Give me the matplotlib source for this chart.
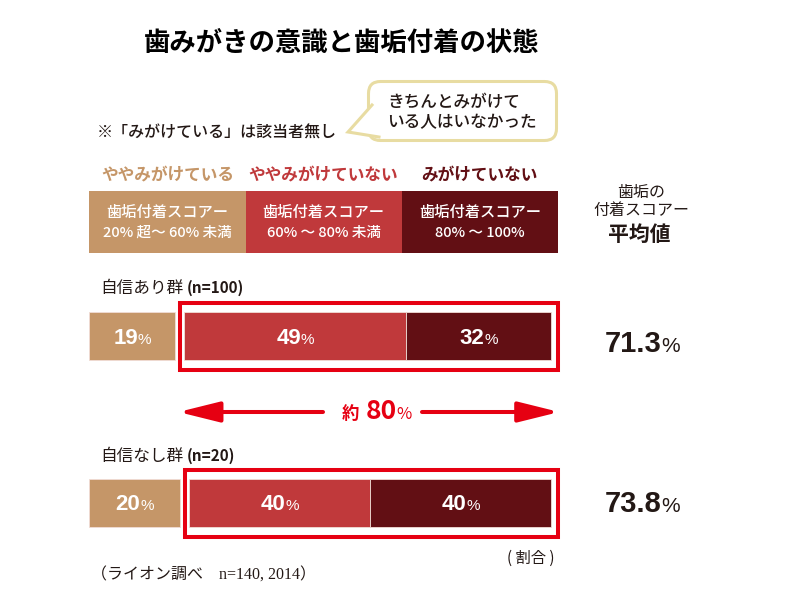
import matplotlib.pyplot as plt
from matplotlib.patches import Rectangle, FancyBboxPatch, Polygon

plt.rcParams['font.family'] = ['Noto Sans CJK JP', 'DejaVu Sans']

# データ
title = '歯みがきの意識と歯垢付着の状態'
note = '※「みがけている」は該当者無し'
bubble_lines = ['きちんとみがけて', 'いる人はいなかった']
categories = ['ややみがけている', 'ややみがけていない', 'みがけていない']
score_label = '歯垢付着スコアー'
score_ranges = ['20% 超〜 60% 未満', '60% 〜 80% 未満', '80% 〜 100%']
groups = ['自信あり群', '自信なし群']
group_n = ['(n=100)', '(n=20)']
shares_confident = [19, 49, 32]
shares_unconfident = [20, 40, 40]
mean_scores = [71.3, 73.8]
mean_header = ['歯垢の', '付着スコアー', '平均値']
about_share = 80
unit_note = '( 割合 )'
source = '（ライオン調べ　n=140, 2014）'

colors = ['#c59668', '#c0393b', '#620f14']
RED = '#e60012'
INK = '#231815'
CREAM = '#e8dca2'
NUM_FONT = ['Liberation Sans', 'Noto Sans CJK JP']

fig = plt.figure(figsize=(8, 6), dpi=100)
ax = fig.add_axes([0, 0, 1, 1])
ax.set_xlim(0, 800)
ax.set_ylim(600, 0)
ax.axis('off')

# 帯グラフ用の軸（x は % 単位）
PX = 4.53      # 1% あたりのピクセル
X0 = 89.3      # 0% の位置
GAP = 9        # 1本目と2本目のすき間（px）
axb = fig.add_axes([0, 0, 1, 1], zorder=2)
axb.set_xlim(-X0 / PX, (800 - X0) / PX)
axb.set_ylim(600, 0)
axb.axis('off')
axb.patch.set_visible(False)

chains = []


def chain_text(axes, x, y, parts, ha='left', color=INK, family=None, gaps=None):
    items = []
    for s, size, weight in parts:
        kw = {} if family is None else {'family': family}
        t = axes.text(x, y, s, fontsize=size, fontweight=weight, color=color,
                      va='baseline', ha='left', zorder=6, **kw)
        items.append(t)
    chains.append((axes, x, y, ha, items, gaps or [0] * len(items)))


def layout_chains():
    r = fig.canvas.get_renderer()
    for axes, x, y, ha, items, gaps in chains:
        widths = [t.get_window_extent(r).width for t in items]
        xd, yd = axes.transData.transform((x, y))
        total = sum(widths) + sum(gaps[:-1])
        start = xd - total / 2 if ha == 'center' else xd
        inv = axes.transData.inverted()
        for t, w, g in zip(items, widths, gaps):
            t.set_x(inv.transform((start, yd))[0])
            start += w + g


# タイトル・注記
ax.text(342, 43, title, ha='center', va='center', fontsize=19, fontweight='bold', color='black')
ax.text(97, 133, note, ha='left', va='center', fontsize=11.5, fontweight='medium', color=INK)

# 吹き出し
box = FancyBboxPatch((368.5, 81.5), 188, 59, boxstyle='round,pad=0,rounding_size=12',
                     facecolor='white', edgecolor=CREAM, linewidth=2.2, zorder=2)
ax.add_patch(box)
tail = [(372, 105), (348, 132), (379, 137)]
ax.add_patch(Polygon(tail, closed=True, facecolor='white', edgecolor='none', zorder=3))
ax.plot([p[0] for p in tail], [p[1] for p in tail], color=CREAM, lw=2.2, zorder=4,
        solid_joinstyle='miter')
for i, line in enumerate(bubble_lines):
    ax.text(387, 102 + i * 20, line, ha='left', va='center', fontsize=12,
            fontweight='medium', color=INK, zorder=5)

# 凡例（カテゴリ）
hx0, hx1 = X0, 558
hw = (hx1 - hx0) / len(categories)
for i, (cat, rng) in enumerate(zip(categories, score_ranges)):
    x = hx0 + i * hw
    ax.add_patch(Rectangle((x, 191), hw, 62, facecolor=colors[i], edgecolor='none'))
    ax.text(x + hw / 2, 174, cat, ha='center', va='center', fontsize=12,
            fontweight='bold', color=colors[i])
    ax.text(x + hw / 2, 212, score_label, ha='center', va='center', fontsize=11,
            fontweight='medium', color='white')
    ax.text(x + hw / 2, 233, rng, ha='center', va='center', fontsize=10.5,
            fontweight='medium', color='white')

# 平均値の見出し
ax.text(641, 193, mean_header[0], ha='center', va='center', fontsize=11.5, color=INK)
ax.text(641, 211, mean_header[1], ha='center', va='center', fontsize=11.5, color=INK)
ax.text(639, 234, mean_header[2], ha='center', va='center', fontsize=15,
        fontweight='bold', color=INK)

# 帯グラフ
row_y = [336, 503]
label_y = [287, 455]
BAR_H = 48
gap_pct = GAP / PX
boxes = []
for k, (y, shares) in enumerate(zip(row_y, [shares_confident, shares_unconfident])):
    left = 0
    box_left = 0
    for j, v in enumerate(shares):
        if j == 1:
            left += gap_pct
            box_left = left
        axb.barh(y, v, left=left, height=BAR_H, color=colors[j],
                 edgecolor='#f1ddd6', linewidth=0.6, zorder=3)
        chain_text(axb, left + v / 2, y + 7.5, [(str(v), 16, 'bold'), ('%', 11, 'normal')],
                   ha='center', color='white', family=NUM_FONT, gaps=[0, 0])
        left += v
    box_right = left
    bl = box_left - 4 / PX
    br = box_right + 7 / PX
    axb.add_patch(Rectangle((bl, y - BAR_H / 2 - 9.5), br - bl, BAR_H + 19,
                            fill=False, edgecolor=RED, linewidth=2.9, zorder=4))
    boxes.append((bl, br))

    # 群ラベル
    chain_text(ax, 100, label_y[k] + 6, [(groups[k], 12, 'normal'), (group_n[k], 11, 'bold')],
               color=INK, gaps=[4, 0])
    # 平均値
    chain_text(ax, 605, y + 15.5 if k == 0 else y + 9,
               [(f'{mean_scores[k]:.1f}', 21, 'bold'), ('%', 15, 'normal')],
               color=INK, family=NUM_FONT, gaps=[0, 0])

# 約80% の矢印
bl_px = X0 + boxes[0][0] * PX
br_px = X0 + boxes[0][1] * PX
ay = 412
aprops = dict(arrowstyle='-|>,head_length=2.5,head_width=0.62', color=RED, lw=2.9,
              shrinkA=0, shrinkB=0, mutation_scale=10)
ax.annotate('', xy=(bl_px - 2, ay), xytext=(323, ay), arrowprops=aprops)
ax.annotate('', xy=(br_px + 1, ay), xytext=(422, ay), arrowprops=aprops)
chain_text(ax, 377, 419, [('約', 12.5, 'bold'), (str(about_share), 19, 'bold'), ('%', 12, 'normal')],
           ha='center', color=RED, gaps=[6, 0, 0])

# 単位・出典
ax.text(507, 558, unit_note, ha='left', va='center', fontsize=11, color=INK)
ax.text(91, 576, source, ha='left', va='center', fontsize=11.5, color=INK,
        family=['Liberation Serif', 'Noto Sans CJK JP'])

layout_chains()
fig.savefig('out.png', dpi=100)
